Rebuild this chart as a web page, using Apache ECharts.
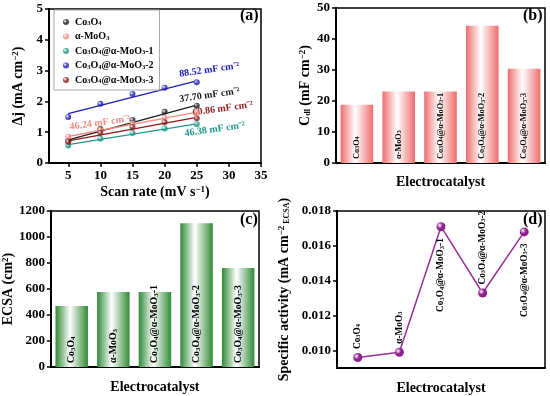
<!DOCTYPE html>
<html><head><meta charset="utf-8">
<script src="https://cdn.jsdelivr.net/npm/echarts@6/dist/echarts.min.js"></script>
<style>html,body{margin:0;padding:0;background:#fff}#c{width:550px;height:396px}</style>
</head><body><div id="c"></div>
<script>
// ---- data ----
const scanRates = [5, 10, 15, 20, 25];
const matNames = ['Co3O4', 'α-MoO3', 'Co3O4@α-MoO3-1', 'Co3O4@α-MoO3-2', 'Co3O4@α-MoO3-3'];
const djCo3O4 = [0.72, 1.10, 1.40, 1.66, 1.86];
const djMoO3 = [0.85, 1.07, 1.28, 1.47, 1.64];
const djComp1 = [0.57, 0.79, 0.97, 1.12, 1.26];
const djComp2 = [1.49, 1.92, 2.24, 2.44, 2.62];
const djComp3 = [0.68, 0.98, 1.17, 1.32, 1.45];
const fitX = [5, 25];
const fitCo3O4 = [0.75, 1.88];
const fitMoO3 = [0.86, 1.65];
const fitComp1 = [0.60, 1.27];
const fitComp2 = [1.60, 2.67];
const fitComp3 = [0.72, 1.48];
const slopeLabels = ['37.70 mF cm⁻²', '46.24 mF cm⁻²', '46.38 mF cm⁻²', '88.52 mF cm⁻²', '60.86 mF cm⁻²'];
const cdlValues = [18.8, 23.1, 23.1, 44.3, 30.4];
const ecsaValues = [469, 577, 577, 1105, 761];
const specActivity = [0.0096, 0.0099, 0.0171, 0.0133, 0.0168];
const xTicksA = [5, 10, 15, 20, 25, 30, 35];
const yTicksD = [0.010, 0.012, 0.014, 0.016, 0.018];

// ---- styling ----
const FF = '"Liberation Serif","Times New Roman",serif';
const colors = ['#1a1a1a', '#F08A84', '#1F978C', '#1C1CB4', '#8E1B1B'];
const djSets = [djCo3O4, djMoO3, djComp1, djComp2, djComp3];
const fitSets = [fitCo3O4, fitMoO3, fitComp1, fitComp2, fitComp3];
// label placement: [which end index, dx, dy]
const slopePlace = [[1, 14, -8], [0, 33, -9], [1, 17, 8], [1, 14, -9], [1, 27, -5]];
const dLabelPos = ['top', 'top', 'bottom', 'top', 'bottom'];

function toRich(s) { return s.replace(/([A-Za-z])(\d)/g, '$1{s|$2}'); }
function sphere(c) {
  return {type: 'radial', x: 0.35, y: 0.35, r: 0.75,
    colorStops: [{offset: 0, color: '#ffffff'}, {offset: 0.45, color: c}, {offset: 1, color: c}]};
}
function barGrad(c) {
  return {type: 'linear', x: 0, y: 0, x2: 1, y2: 0,
    colorStops: [{offset: 0, color: c}, {offset: 0.45, color: '#ffffff'}, {offset: 1, color: c}]};
}
const tickFont = {fontFamily: FF, fontWeight: 'bold', fontSize: 13, color: '#000'};
const nameFont = {fontFamily: FF, fontWeight: 'bold', fontSize: 14, color: '#000',
  rich: {sup: {fontFamily: FF, fontWeight: 'bold', fontSize: 9, verticalAlign: 'top', color: '#000'},
         sub: {fontFamily: FF, fontWeight: 'bold', fontSize: 8, verticalAlign: 'bottom', color: '#000'}}};
const axLine = {show: true, lineStyle: {color: '#000', width: 2}};
const axTick = {show: true, inside: false, length: 4, lineStyle: {color: '#000', width: 1.5}};
function richSmall(fs) { return {s: {fontFamily: FF, fontWeight: 'bold', fontSize: fs, verticalAlign: 'bottom', color: '#000'}}; }

const grids = [
  {left: 49, top: 9, width: 212, height: 154},
  {left: 336, top: 8, width: 209, height: 155},
  {left: 50, top: 211, width: 209, height: 156},
  {left: 337, top: 211, width: 208, height: 157}
].map(g => Object.assign(g, {show: true, borderColor: '#000', borderWidth: 1.5, backgroundColor: 'transparent', containLabel: false}));

const xAxes = [
  {gridIndex: 0, type: 'value', min: 2, max: 35, axisLine: axLine,
   axisTick: Object.assign({customValues: xTicksA}, axTick),
   axisLabel: Object.assign({customValues: xTicksA, margin: 6}, tickFont), splitLine: {show: false},
   name: 'Scan rate (mV s{sup|−1})', nameLocation: 'middle', nameGap: 22, nameTextStyle: nameFont},
  {gridIndex: 1, type: 'category', data: matNames, axisLine: axLine, axisTick: {show: false}, axisLabel: {show: false},
   name: 'Electrocatalyst', nameLocation: 'middle', nameGap: 12, nameTextStyle: nameFont},
  {gridIndex: 2, type: 'category', data: matNames, axisLine: axLine, axisTick: {show: false}, axisLabel: {show: false},
   name: 'Electrocatalyst', nameLocation: 'middle', nameGap: 13, nameTextStyle: nameFont},
  {gridIndex: 3, type: 'category', data: matNames, axisLine: axLine, axisTick: {show: false}, axisLabel: {show: false},
   name: 'Electrocatalyst', nameLocation: 'middle', nameGap: 13, nameTextStyle: nameFont}
];
const yAxes = [
  {gridIndex: 0, type: 'value', min: 0, max: 5, interval: 1, axisLine: axLine, axisTick: axTick,
   axisLabel: Object.assign({margin: 6}, tickFont), splitLine: {show: false},
   name: 'Δj (mA cm{sup|−2})', nameLocation: 'middle', nameGap: 24, nameTextStyle: nameFont},
  {gridIndex: 1, type: 'value', min: 0, max: 50, interval: 10, axisLine: axLine, axisTick: axTick,
   axisLabel: Object.assign({margin: 6}, tickFont), splitLine: {show: false},
   name: 'C{sub|dl} (mF cm{sup|−2})', nameLocation: 'middle', nameGap: 24, nameTextStyle: nameFont},
  {gridIndex: 2, type: 'value', min: 0, max: 1200, interval: 200, axisLine: axLine, axisTick: axTick,
   axisLabel: Object.assign({margin: 6, formatter: v => String(v)}, tickFont), splitLine: {show: false},
   name: 'ECSA (cm{sup|2})', nameLocation: 'middle', nameGap: 32, nameTextStyle: nameFont},
  {gridIndex: 3, type: 'value', min: 0.009, max: 0.018, axisLine: axLine,
   axisTick: Object.assign({customValues: yTicksD}, axTick),
   axisLabel: Object.assign({customValues: yTicksD, margin: 6, formatter: v => v.toFixed(3)}, tickFont),
   splitLine: {show: false},
   name: 'Specific activity (mA cm{sup|−2}{sub| ECSA})', nameLocation: 'middle', nameGap: 46, nameTextStyle: nameFont}
];

const series = [];
matNames.forEach((n, i) => {
  series.push({
    name: n, type: 'scatter', xAxisIndex: 0, yAxisIndex: 0, symbol: 'circle', symbolSize: 6,
    itemStyle: {color: sphere(colors[i])}, z: 5,
    data: scanRates.map((x, k) => [x, djSets[i][k]])
  });
  const pl = slopePlace[i];
  series.push({
    type: 'line', xAxisIndex: 0, yAxisIndex: 0, symbol: 'circle', symbolSize: 0, showSymbol: true,
    silent: true, lineStyle: {color: colors[i], width: 1.3}, itemStyle: {color: colors[i]}, z: 3,
    data: fitX.map((x, k) => {
      const d = {value: [x, fitSets[i][k]]};
      if (k === pl[0]) d.label = {show: true, formatter: slopeLabels[i], position: 'inside',
        offset: [pl[1], pl[2]], rotate: 8, align: 'center', verticalAlign: 'middle',
        fontFamily: FF, fontWeight: 'bold', fontSize: 10, color: colors[i]};
      return d;
    })
  });
});
function barLabel(fs, sfs) {
  return {show: true, position: 'insideBottom', rotate: 90, align: 'left', verticalAlign: 'middle',
    distance: 4, formatter: p => toRich(p.name), fontFamily: FF, fontWeight: 'bold', fontSize: fs, color: '#000', rich: richSmall(sfs)};
}
series.push({type: 'bar', xAxisIndex: 1, yAxisIndex: 1, data: cdlValues, barWidth: '78%',
  itemStyle: {color: barGrad('#EE6D6D')}, label: barLabel(8.3, 6)});
series.push({type: 'bar', xAxisIndex: 2, yAxisIndex: 2, data: ecsaValues, barWidth: '78%',
  itemStyle: {color: barGrad('#2F8A35')}, label: barLabel(9.8, 7)});
series.push({type: 'line', xAxisIndex: 3, yAxisIndex: 3, symbol: 'circle', symbolSize: 9,
  lineStyle: {color: '#9A2F9A', width: 1.5}, itemStyle: {color: sphere('#8E1F8E')},
  data: specActivity.map((v, i) => ({value: v, label: {
    show: true, position: dLabelPos[i], rotate: 90, align: dLabelPos[i] === 'top' ? 'left' : 'right',
    verticalAlign: 'middle', distance: dLabelPos[i] === 'top' ? 4 : 7,
    formatter: p => toRich(p.name), fontFamily: FF, fontWeight: 'bold', fontSize: 9.3, color: '#000', rich: richSmall(6.5)}}))});

const panelLbl = (t, l, tp) => ({text: t, left: l, top: tp, padding: 0,
  textStyle: {fontFamily: FF, fontWeight: 'bold', fontSize: 16, color: '#000'}});

const option = {
  animation: false,
  backgroundColor: '#fff',
  title: [panelLbl('(a)', 240, 8), panelLbl('(b)', 523, 8), panelLbl('(c)', 240, 212), panelLbl('(d)', 523, 212)],
  legend: {orient: 'vertical', left: 54, top: 10, width: 91, data: matNames,
    backgroundColor: '#fff', borderColor: '#aaa', borderWidth: 1, padding: [7, 6, 5, 9], itemGap: 4.5,
    itemWidth: 8, itemHeight: 6, icon: 'circle',
    formatter: n => toRich(n),
    textStyle: {fontFamily: FF, fontWeight: 'bold', fontSize: 10, color: '#000', rich: richSmall(6.5)}},
  grid: grids, xAxis: xAxes, yAxis: yAxes, series: series
};
const chart = echarts.init(document.getElementById('c'), null, {renderer: 'canvas'});
chart.setOption(option);
</script></body></html>
